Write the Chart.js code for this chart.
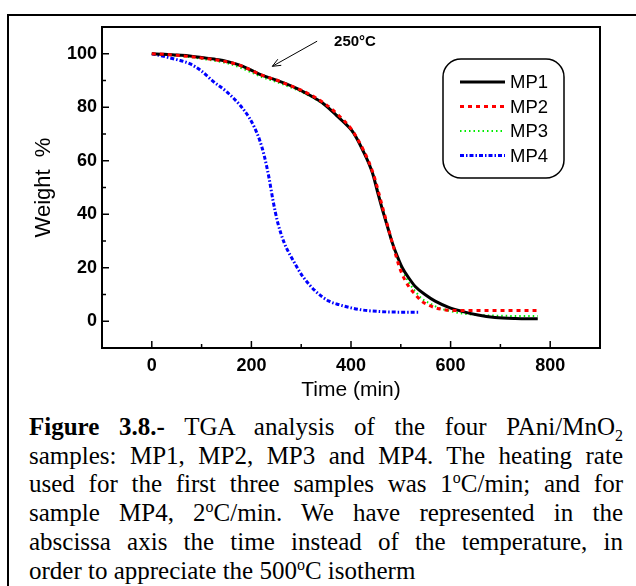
<!DOCTYPE html>
<html>
<head>
<meta charset="utf-8">
<script src="https://cdn.jsdelivr.net/npm/chart.js@4.4.0/dist/chart.umd.min.js"></script>
<style>
  body { margin: 0; background: #fff; width: 636px; height: 586px; overflow: hidden; position: relative; }
  #marco { position: absolute; left: 7px; top: 14px; width: 700px; height: 700px; border: 2px solid #000; }
  #grafico { position: absolute; left: 0; top: 0; }
  #pie {
    position: absolute; left: 29px; top: 413px; width: 594px;
    font-family: "Liberation Serif", "Times New Roman", serif;
    font-size: 25px; line-height: 28.7px; color: #000;
  }
  #pie .l { white-space: nowrap; text-align: justify; text-align-last: justify; }
  #pie .l.fin { text-align-last: left; }
  #pie sub, #pie sup { font-size: 16px; line-height: 0; }
</style>
</head>
<body>
<div id="marco"></div>
<canvas id="grafico" width="636" height="410"></canvas>
<div id="pie">
  <div class="l"><b>Figure 3.8.-</b> TGA analysis of the four PAni/MnO<sub>2</sub></div>
  <div class="l">samples: MP1, MP2, MP3 and MP4. The heating rate</div>
  <div class="l">used for the first three samples was 1<sup>o</sup>C/min; and for</div>
  <div class="l">sample MP4, 2<sup>o</sup>C/min. We have represented in the</div>
  <div class="l">abscissa axis the time instead of the temperature, in</div>
  <div class="l fin">order to appreciate the 500<sup>o</sup>C isotherm</div>
</div>

<script>
// --- Datos (tiempo en min, peso en %) ---
const tiempoMP1 = [0, 25, 50, 76, 100, 125, 143, 160, 183, 209, 225, 243, 270, 296, 320, 343, 369, 385, 403, 423, 443, 453, 463, 473, 483, 493, 503, 516, 529, 550, 569, 595, 623, 655, 689, 730, 775];
const pesoMP1   = [100, 99.8, 99.5, 99.2, 98.6, 98.0, 97.5, 96.7, 95.3, 93.0, 91.7, 90.6, 88.7, 86.6, 84.2, 81.6, 77.3, 74.5, 71.0, 64.2, 55.5, 48.6, 41.8, 35.5, 29.3, 24.3, 20.0, 16.2, 13.0, 9.8, 7.5, 5.3, 3.7, 2.3, 1.4, 1.0, 0.9];

const tiempoMP2 = [0, 25, 50, 76, 100, 125, 150, 175, 200, 225, 250, 275, 300, 325, 350, 375, 400, 425, 445, 465, 485, 499, 516, 530, 542, 556, 570, 585, 602, 640, 700, 775];
const pesoMP2   = [100, 99.8, 99.4, 99.0, 98.4, 97.8, 97.0, 95.8, 93.8, 91.7, 90.2, 88.3, 86.4, 84.0, 81.0, 77.0, 72.0, 64.0, 55.0, 41.5, 28.0, 19.3, 13.0, 9.8, 7.5, 6.0, 5.0, 4.4, 4.0, 4.0, 4.0, 4.0];

const tiempoMP3 = [0, 25, 50, 76, 100, 125, 150, 175, 200, 225, 250, 275, 300, 325, 350, 375, 400, 425, 445, 465, 485, 500, 516, 530, 542, 560, 576, 600, 620, 650, 690, 730, 775];
const pesoMP3   = [100, 99.7, 99.3, 98.8, 98.1, 97.4, 96.5, 95.0, 93.0, 91.0, 89.5, 87.7, 85.8, 83.4, 80.4, 76.6, 71.5, 63.5, 54.5, 41.0, 28.0, 20.5, 14.5, 11.0, 8.5, 6.5, 5.0, 3.8, 3.0, 2.4, 2.1, 2.0, 2.0];

const tiempoMP4 = [0, 29, 50, 76, 100, 123, 149, 176, 196, 206, 216, 226, 236, 243, 253, 266, 283, 303, 329, 356, 376, 400, 423, 460, 500, 535];
const pesoMP4   = [100, 98.8, 97.8, 96.3, 93.5, 89.7, 86.0, 81.0, 76.0, 72.5, 68.0, 61.7, 53.0, 45.5, 36.8, 29.3, 23.0, 16.8, 11.2, 7.5, 6.2, 5.0, 4.2, 3.6, 3.4, 3.4];

const xTicksConEtiqueta = [0, 200, 400, 600, 800];
const yTicksConEtiqueta = [0, 20, 40, 60, 80, 100];

// Anotación de la flecha "250°C" (en unidades de datos)
const flechaDesde = { x: 332, y: 104.7 };
const flechaHasta = { x: 242, y: 95.3 };
const textoFlecha = { x: 366, y: 104.6, texto: '250°C' };

const fuente = '"Liberation Sans", Arial, sans-serif';

function serie(xs, ys) {
  return xs.map((x, i) => ({ x: x, y: ys[i] }));
}

// Marco, ticks hacia dentro, leyenda redondeada y flecha
const decoracionPlugin = {
  id: 'decoracion',
  afterDraw(chart) {
    const { ctx, chartArea: a } = chart;
    const sx = chart.scales.x, sy = chart.scales.y;
    ctx.save();
    ctx.strokeStyle = '#000';
    ctx.lineWidth = 2;
    ctx.strokeRect(a.left, a.top, a.right - a.left, a.bottom - a.top);

    ctx.lineWidth = 1.5;
    sx.ticks.forEach(t => {
      const px = sx.getPixelForValue(t.value);
      if (px <= a.left + 1 || px >= a.right - 1) return;
      const len = xTicksConEtiqueta.includes(t.value) ? 7 : 4;
      ctx.beginPath(); ctx.moveTo(px, a.bottom); ctx.lineTo(px, a.bottom - len); ctx.stroke();
    });
    sy.ticks.forEach(t => {
      const py = sy.getPixelForValue(t.value);
      if (py <= a.top + 1 || py >= a.bottom - 1) return;
      const len = yTicksConEtiqueta.includes(t.value) ? 7 : 4;
      ctx.beginPath(); ctx.moveTo(a.left, py); ctx.lineTo(a.left + len, py); ctx.stroke();
    });

    // leyenda
    const lx = a.left + 341, ly = a.top + 32, lw = 121, lh = 119;
    ctx.lineWidth = 1.5;
    ctx.beginPath();
    ctx.roundRect(lx, ly, lw, lh, 18);
    ctx.stroke();
    ctx.font = '18.5px ' + fuente;
    ctx.textBaseline = 'middle';
    ctx.fillStyle = '#000';
    chart.data.datasets.forEach((ds, i) => {
      const yy = ly + 23 + i * 24.5;
      ctx.save();
      ctx.strokeStyle = ds.borderColor;
      ctx.lineWidth = ds.borderWidth;
      ctx.setLineDash(ds.borderDash || []);
      ctx.beginPath(); ctx.moveTo(lx + 17, yy); ctx.lineTo(lx + 62, yy); ctx.stroke();
      ctx.restore();
      ctx.fillText(ds.label, lx + 67, yy + 1);
    });

    // flecha 250°C
    const x0 = sx.getPixelForValue(flechaDesde.x), y0 = sy.getPixelForValue(flechaDesde.y);
    const x1 = sx.getPixelForValue(flechaHasta.x), y1 = sy.getPixelForValue(flechaHasta.y);
    const ang = Math.atan2(y1 - y0, x1 - x0);
    ctx.lineWidth = 1;
    ctx.beginPath(); ctx.moveTo(x0, y0); ctx.lineTo(x1, y1); ctx.stroke();
    ctx.beginPath();
    ctx.moveTo(x1 - 9 * Math.cos(ang - 0.4), y1 - 9 * Math.sin(ang - 0.4));
    ctx.lineTo(x1, y1);
    ctx.lineTo(x1 - 9 * Math.cos(ang + 0.4), y1 - 9 * Math.sin(ang + 0.4));
    ctx.stroke();
    ctx.font = 'bold 15px ' + fuente;
    ctx.textBaseline = 'middle';
    ctx.fillText(textoFlecha.texto, sx.getPixelForValue(textoFlecha.x), sy.getPixelForValue(textoFlecha.y));
    ctx.restore();
  }
};

new Chart(document.getElementById('grafico'), {
  type: 'line',
  data: {
    datasets: [
      { label: 'MP1', data: serie(tiempoMP1, pesoMP1), borderColor: '#000000', borderWidth: 3, order: 1 },
      { label: 'MP2', data: serie(tiempoMP2, pesoMP2), borderColor: '#ff0000', borderWidth: 3, borderDash: [4, 4], order: 0 },
      { label: 'MP3', data: serie(tiempoMP3, pesoMP3), borderColor: '#00ee00', borderWidth: 2, borderDash: [1.5, 3], order: 2 },
      { label: 'MP4', data: serie(tiempoMP4, pesoMP4), borderColor: '#0000ff', borderWidth: 3, borderDash: [4, 2, 1.5, 2], order: 3 }
    ]
  },
  options: {
    responsive: false,
    animation: false,
    events: [],
    layout: { padding: { top: 27, right: 36, left: 0, bottom: 0 } },
    elements: { point: { radius: 0 }, line: { cubicInterpolationMode: 'monotone', fill: false } },
    plugins: { legend: { display: false }, tooltip: { enabled: false } },
    scales: {
      x: {
        type: 'linear', min: -100, max: 900,
        grid: { display: false, drawTicks: false }, border: { display: false },
        ticks: {
          stepSize: 100, autoSkip: false, maxRotation: 0, color: '#000', padding: 7,
          font: { family: fuente, size: 18, weight: 'bold' },
          callback: v => xTicksConEtiqueta.includes(v) ? String(v) : ''
        },
        title: { display: true, text: 'Time (min)', color: '#000', font: { family: fuente, size: 21 }, padding: { top: 0, bottom: 7 } },
        afterFit: s => { s.height = 62; }
      },
      y: {
        min: -10, max: 110,
        grid: { display: false, drawTicks: false }, border: { display: false },
        ticks: {
          stepSize: 10, autoSkip: false, color: '#000', padding: 5,
          font: { family: fuente, size: 18, weight: 'bold' },
          callback: v => yTicksConEtiqueta.includes(v) ? String(v) : ''
        },
        title: { display: true, text: 'Weight  %', color: '#000', font: { family: fuente, size: 22 }, padding: { top: 31, bottom: 0 } },
        afterFit: s => { s.width = 102; }
      }
    }
  },
  plugins: [decoracionPlugin]
});
</script>
</body>
</html>
